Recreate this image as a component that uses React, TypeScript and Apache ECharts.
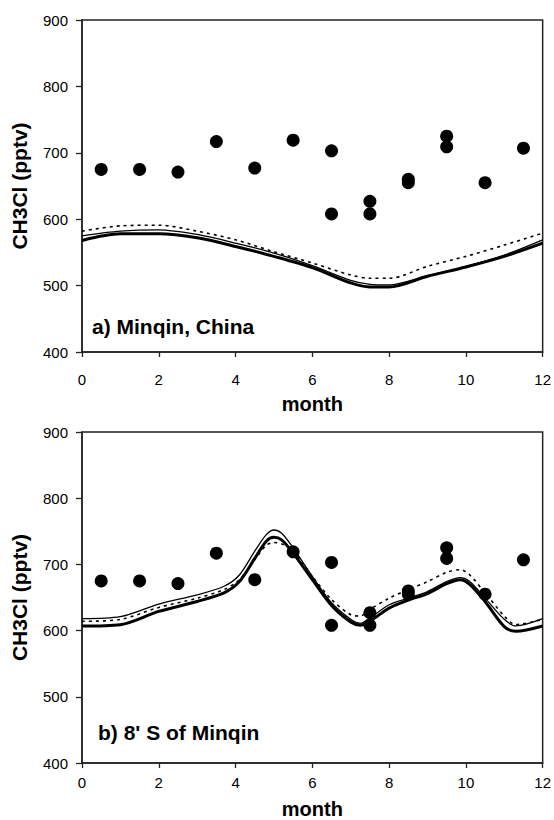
import React, { useEffect, useRef } from "react";
import * as echarts from "echarts";

// observations (same in both panels)
const obsMonth = [0.5, 1.5, 2.5, 3.5, 4.5, 5.5, 6.5, 6.5, 7.5, 7.5, 8.5, 8.5, 9.5, 9.5, 10.5, 11.5];
const obsValue = [675, 675, 671, 717, 677, 719, 703, 608, 627, 608, 660, 655, 725, 709, 655, 707];

// panel a) model lines
const topMonths = [0, 1, 2, 3, 4, 5, 6, 7, 7.5, 8, 9, 10, 11, 12];
const topThick = [568, 578, 578, 572, 559, 544, 527, 504, 498, 498, 514, 528, 544, 564];
const topThin = [575, 582, 584, 577, 564, 549, 530, 508, 502, 501, 515, 529, 546, 569];
const topDotted = [582, 590, 591, 582, 569, 551, 534, 516, 511, 511, 529, 544, 561, 579];

// panel b) model lines
const botMonths = [0, 1, 2, 3, 3.7, 4.1, 4.5, 4.8, 5.0, 5.2, 5.5, 6, 6.5, 7, 7.25, 7.5, 8, 8.5, 9, 9.5, 9.85, 10.1, 10.5, 11, 11.3, 12];
const botThin = [618, 621, 640, 654, 667, 684, 720, 745, 752, 747, 725, 682, 642, 617, 611, 619, 639, 649, 659, 674, 680, 674, 649, 617, 607, 618];
const botThick = [607, 609, 629, 644, 657, 674, 709, 735, 741, 737, 717, 677, 638, 613, 608, 614, 634, 646, 656, 671, 677, 670, 644, 606, 599, 607];
const botDotted = [614, 617, 635, 649, 662, 677, 707, 729, 733, 731, 720, 682, 647, 624, 622, 632, 649, 662, 674, 688, 692, 684, 657, 622, 609, 617];

const xTicks = { min: 0, max: 12, interval: 2 };
const yTicks = { min: 400, max: 900, interval: 100 };

const FONT = "Liberation Sans";
const AX = "#222";

function pairs(xs: number[], ys: number[]) {
  return xs.map((x, i) => [x, ys[i]]);
}

export default function App() {
  const ref = useRef<HTMLDivElement>(null);
  useEffect(() => {
    document.body.style.margin = "0";
    const chart = echarts.init(ref.current!, null, { renderer: "svg" });
    const grids = [
      { left: 82, top: 20, width: 461, height: 332, show: true, borderColor: AX, borderWidth: 1.5, backgroundColor: "transparent" },
      { left: 82, top: 432, width: 461, height: 332, show: true, borderColor: AX, borderWidth: 1.5, backgroundColor: "transparent" },
    ];
    const labelMargins = [20, 12];
    const nameGaps = [42, 36];
    const xAxes: any[] = [0, 1].map((g) => ({
      type: "value",
      gridIndex: g,
      ...xTicks,
      name: "month",
      nameLocation: "middle",
      nameGap: nameGaps[g],
      nameTextStyle: { fontFamily: FONT, fontWeight: "bold", fontSize: 20, color: "#000" },
      axisLine: { show: true, onZero: false, lineStyle: { color: AX, width: 1.5 } },
      axisTick: { show: true, length: 5, lineStyle: { color: AX, width: 1.3 } },
      axisLabel: { margin: labelMargins[g], fontFamily: FONT, fontSize: 15, color: "#000" },
      splitLine: { show: false },
    }));
    const yAxes: any[] = [0, 1].map((g) => ({
      type: "value",
      gridIndex: g,
      ...yTicks,
      name: "CH3Cl (pptv)",
      nameLocation: "middle",
      nameGap: 52,
      nameTextStyle: { fontFamily: FONT, fontWeight: "bold", fontSize: 21, color: "#000" },
      axisLine: { show: true, onZero: false, lineStyle: { color: AX, width: 1.5 } },
      axisTick: { show: true, length: 6, lineStyle: { color: AX, width: 1.3 } },
      axisLabel: { margin: 14, fontFamily: FONT, fontSize: 15, color: "#000" },
      splitLine: { show: false },
    }));

    const lineSet = (g: number, xs: number[], thick: number[], thin: number[], dotted: number[]) => [
      {
        type: "line", xAxisIndex: g, yAxisIndex: g, data: pairs(xs, thick), smooth: 0.3,
        symbol: "none", lineStyle: { color: "#000", width: 3 }, z: 3,
      },
      {
        type: "line", xAxisIndex: g, yAxisIndex: g, data: pairs(xs, thin), smooth: 0.3,
        symbol: "none", lineStyle: { color: "#000", width: 1.3 }, z: 3,
      },
      {
        type: "line", xAxisIndex: g, yAxisIndex: g, data: pairs(xs, dotted), smooth: 0.3,
        symbol: "none", lineStyle: { color: "#000", width: 1.6, type: [3, 4] }, z: 3,
      },
      {
        type: "scatter", xAxisIndex: g, yAxisIndex: g, data: pairs(obsMonth, obsValue),
        symbol: "circle", symbolSize: 13, itemStyle: { color: "#000", opacity: 1 }, z: 4,
      },
    ];

    chart.setOption({
      animation: false,
      backgroundColor: "#fff",
      grid: grids,
      xAxis: xAxes,
      yAxis: yAxes,
      series: [
        ...lineSet(0, topMonths, topThick, topThin, topDotted),
        ...lineSet(1, botMonths, botThick, botThin, botDotted),
      ],
      graphic: [
        {
          type: "text", left: 92, top: 316,
          style: { text: "a) Minqin, China", fontFamily: FONT, fontWeight: "bold", fontSize: 21, fill: "#000" },
        },
        {
          type: "text", left: 98, top: 722,
          style: { text: "b) 8' S of Minqin", fontFamily: FONT, fontWeight: "bold", fontSize: 21, fill: "#000" },
        },
      ],
    });
    return () => chart.dispose();
  }, []);
  return <div ref={ref} style={{ width: 554, height: 820 }} />;
}
